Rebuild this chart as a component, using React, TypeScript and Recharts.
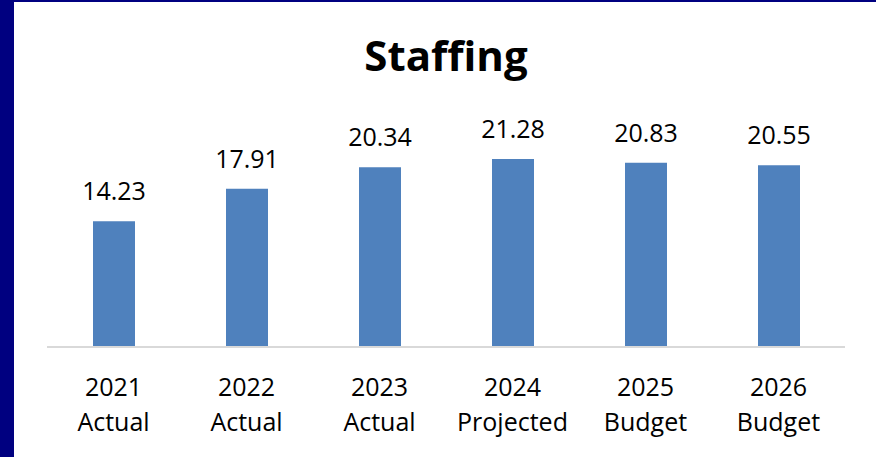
import React from "react";
import { BarChart, Bar, XAxis, YAxis, LabelList } from "recharts";

const years = ["2021", "2022", "2023", "2024", "2025", "2026"];
const kinds = ["Actual", "Actual", "Actual", "Projected", "Budget", "Budget"];
const staffing = [14.23, 17.91, 20.34, 21.28, 20.83, 20.55];

const data = years.map((y, i) => ({ key: i, year: y, kind: kinds[i], value: staffing[i] }));

const LABEL_FONT = "'Open Sans', 'Liberation Sans', sans-serif";

const Tick = (props: any) => {
  const { x, y, payload } = props;
  const d = data[payload.value];
  return (
    <g transform={`translate(${x},${y})`}>
      <text textAnchor="middle" fontFamily={LABEL_FONT} fontSize={25} fill="#000">
        <tspan x={0} y={41}>{d.year}</tspan>
        <tspan x={0} y={76}>{d.kind}</tspan>
      </text>
    </g>
  );
};

export default function App() {
  return (
    <div style={{ position: "fixed", left: 0, top: 0, width: 876, height: 457, background: "#000080" }}>
      <div style={{ position: "absolute", left: 14, top: 2, width: 862, height: 455, background: "#fff" }}>
        <BarChart
          width={862}
          height={455}
          data={data}
          margin={{ top: 124, right: 31, left: 33, bottom: 0 }}
          barCategoryGap={0}
        >
          <XAxis
            dataKey="key"
            type="category"
            height={110}
            tickLine={false}
            axisLine={{ stroke: "#d9d9d9", strokeWidth: 2 }}
            tick={<Tick />}
            interval={0}
          />
          <YAxis hide domain={[0, 25]} />
          <Bar dataKey="value" fill="#4f81bd" barSize={42} isAnimationActive={false}>
            <LabelList
              dataKey="value"
              position="top"
              offset={21}
              fontFamily={LABEL_FONT}
              fontSize={25}
              fill="#000"
              formatter={(v: any) => Number(v).toFixed(2)}
            />
          </Bar>
        </BarChart>
        <svg width={862} height={100} style={{ position: "absolute", left: 0, top: 0, pointerEvents: "none" }}>
          <text x={432} y={69} textAnchor="middle" fontFamily="'Open Sans', sans-serif" fontWeight="bold" fontSize={42} fill="#000">
            Staffing
          </text>
        </svg>
      </div>
    </div>
  );
}
